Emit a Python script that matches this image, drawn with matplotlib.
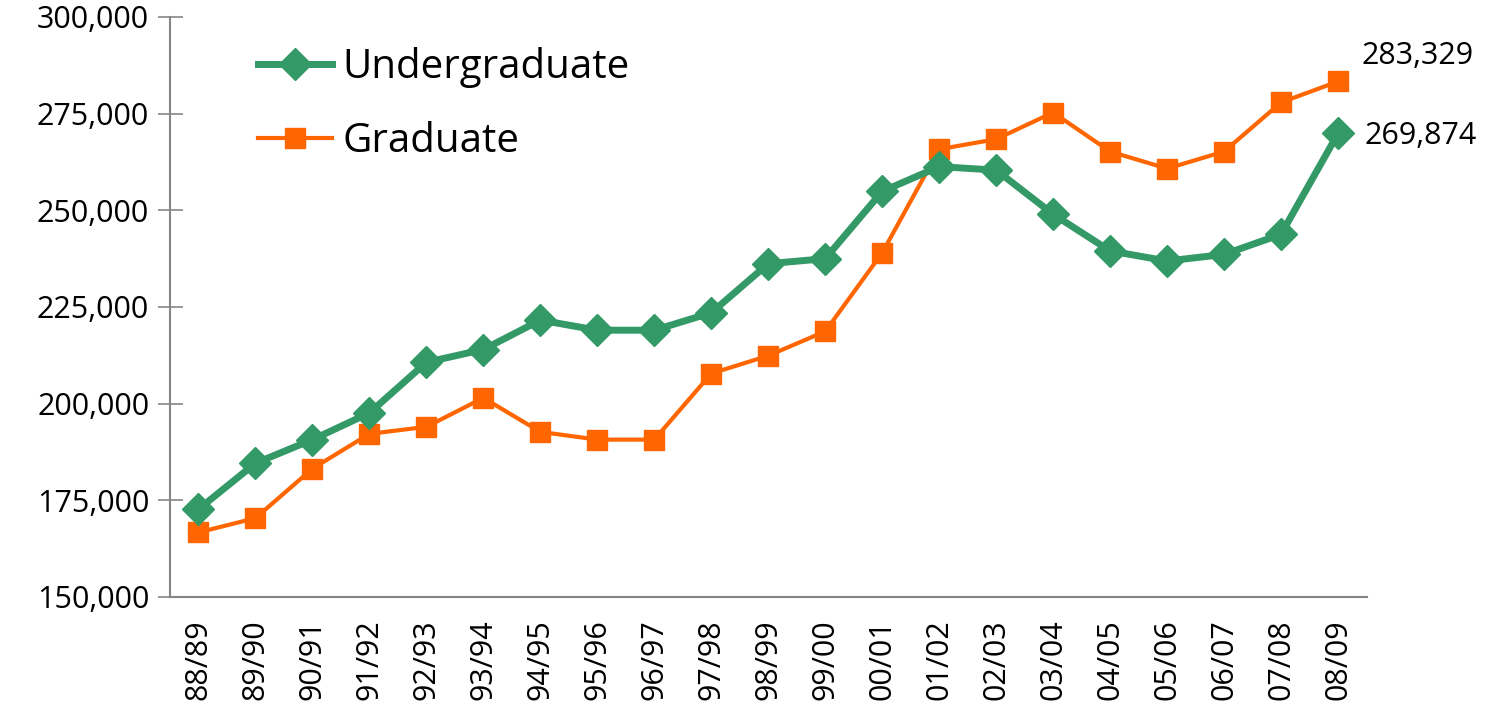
import matplotlib
matplotlib.use("Agg")
import matplotlib.pyplot as plt
from matplotlib.ticker import FuncFormatter

plt.rcParams['font.family'] = ['Open Sans', 'DejaVu Sans']

years = ["88/89", "89/90", "90/91", "91/92", "92/93", "93/94", "94/95", "95/96",
         "96/97", "97/98", "98/99", "99/00", "00/01", "01/02", "02/03", "03/04",
         "04/05", "05/06", "06/07", "07/08", "08/09"]
undergraduate = [172700, 184600, 190700, 197600, 210700, 214000, 221600, 219000,
                 219000, 223500, 236200, 237500, 254900, 261300, 260400, 249000,
                 239500, 236900, 238600, 243800, 269874]
graduate = [166700, 170400, 183200, 192200, 194000, 201500, 192700, 190700,
            190700, 207800, 212400, 218700, 239000, 265800, 268400, 275300,
            265200, 260800, 265200, 277900, 283329]
y_ticks = [150000, 175000, 200000, 225000, 250000, 275000, 300000]

GREEN = "#339966"
ORANGE = "#FF6600"
AXIS = "#868686"

fig = plt.figure(figsize=(14.92, 7.14), dpi=100)
ax = fig.add_axes([170 / 1492, 1 - 597 / 714, 1196.5 / 1492, 580 / 714])

x = list(range(len(years)))
ax.plot(x, undergraduate, color=GREEN, lw=5, marker="D", ms=16,
        label="Undergraduate", zorder=3)
ax.plot(x, graduate, color=ORANGE, lw=3, marker="s", ms=14,
        label="Graduate", zorder=2)

ax.set_xlim(-0.5, len(years) - 0.5)
ax.set_ylim(150000, 300000)
ax.set_yticks(y_ticks)
ax.yaxis.set_major_formatter(FuncFormatter(lambda v, p: f"{int(v):,}"))
ax.set_xticks(x)
ax.set_xticklabels(years, rotation=90)

for s in ["top", "right"]:
    ax.spines[s].set_visible(False)
for s in ["left", "bottom"]:
    ax.spines[s].set_color(AXIS)
    ax.spines[s].set_linewidth(1.5)

ax.tick_params(axis="y", direction="inout", length=18, width=1.2, color=AXIS,
               labelsize=22, pad=6)
ax.tick_params(axis="x", length=0, labelsize=22, pad=16)

ax.annotate(f"{graduate[-1]:,}", (x[-1], graduate[-1]), xytext=(17, 18),
            textcoords="offset points", fontsize=22, va="center", ha="left")
ax.annotate(f"{undergraduate[-1]:,}", (x[-1], undergraduate[-1]), xytext=(19, -2),
            textcoords="offset points", fontsize=22, va="center", ha="left")

ax.legend(loc="upper left", bbox_to_anchor=(0.0735, 0.948), frameon=False,
          fontsize=29, handlelength=1.85, handletextpad=0.25, borderaxespad=0,
          borderpad=0, labelspacing=0.82)

fig.savefig("out.png", dpi=100)
